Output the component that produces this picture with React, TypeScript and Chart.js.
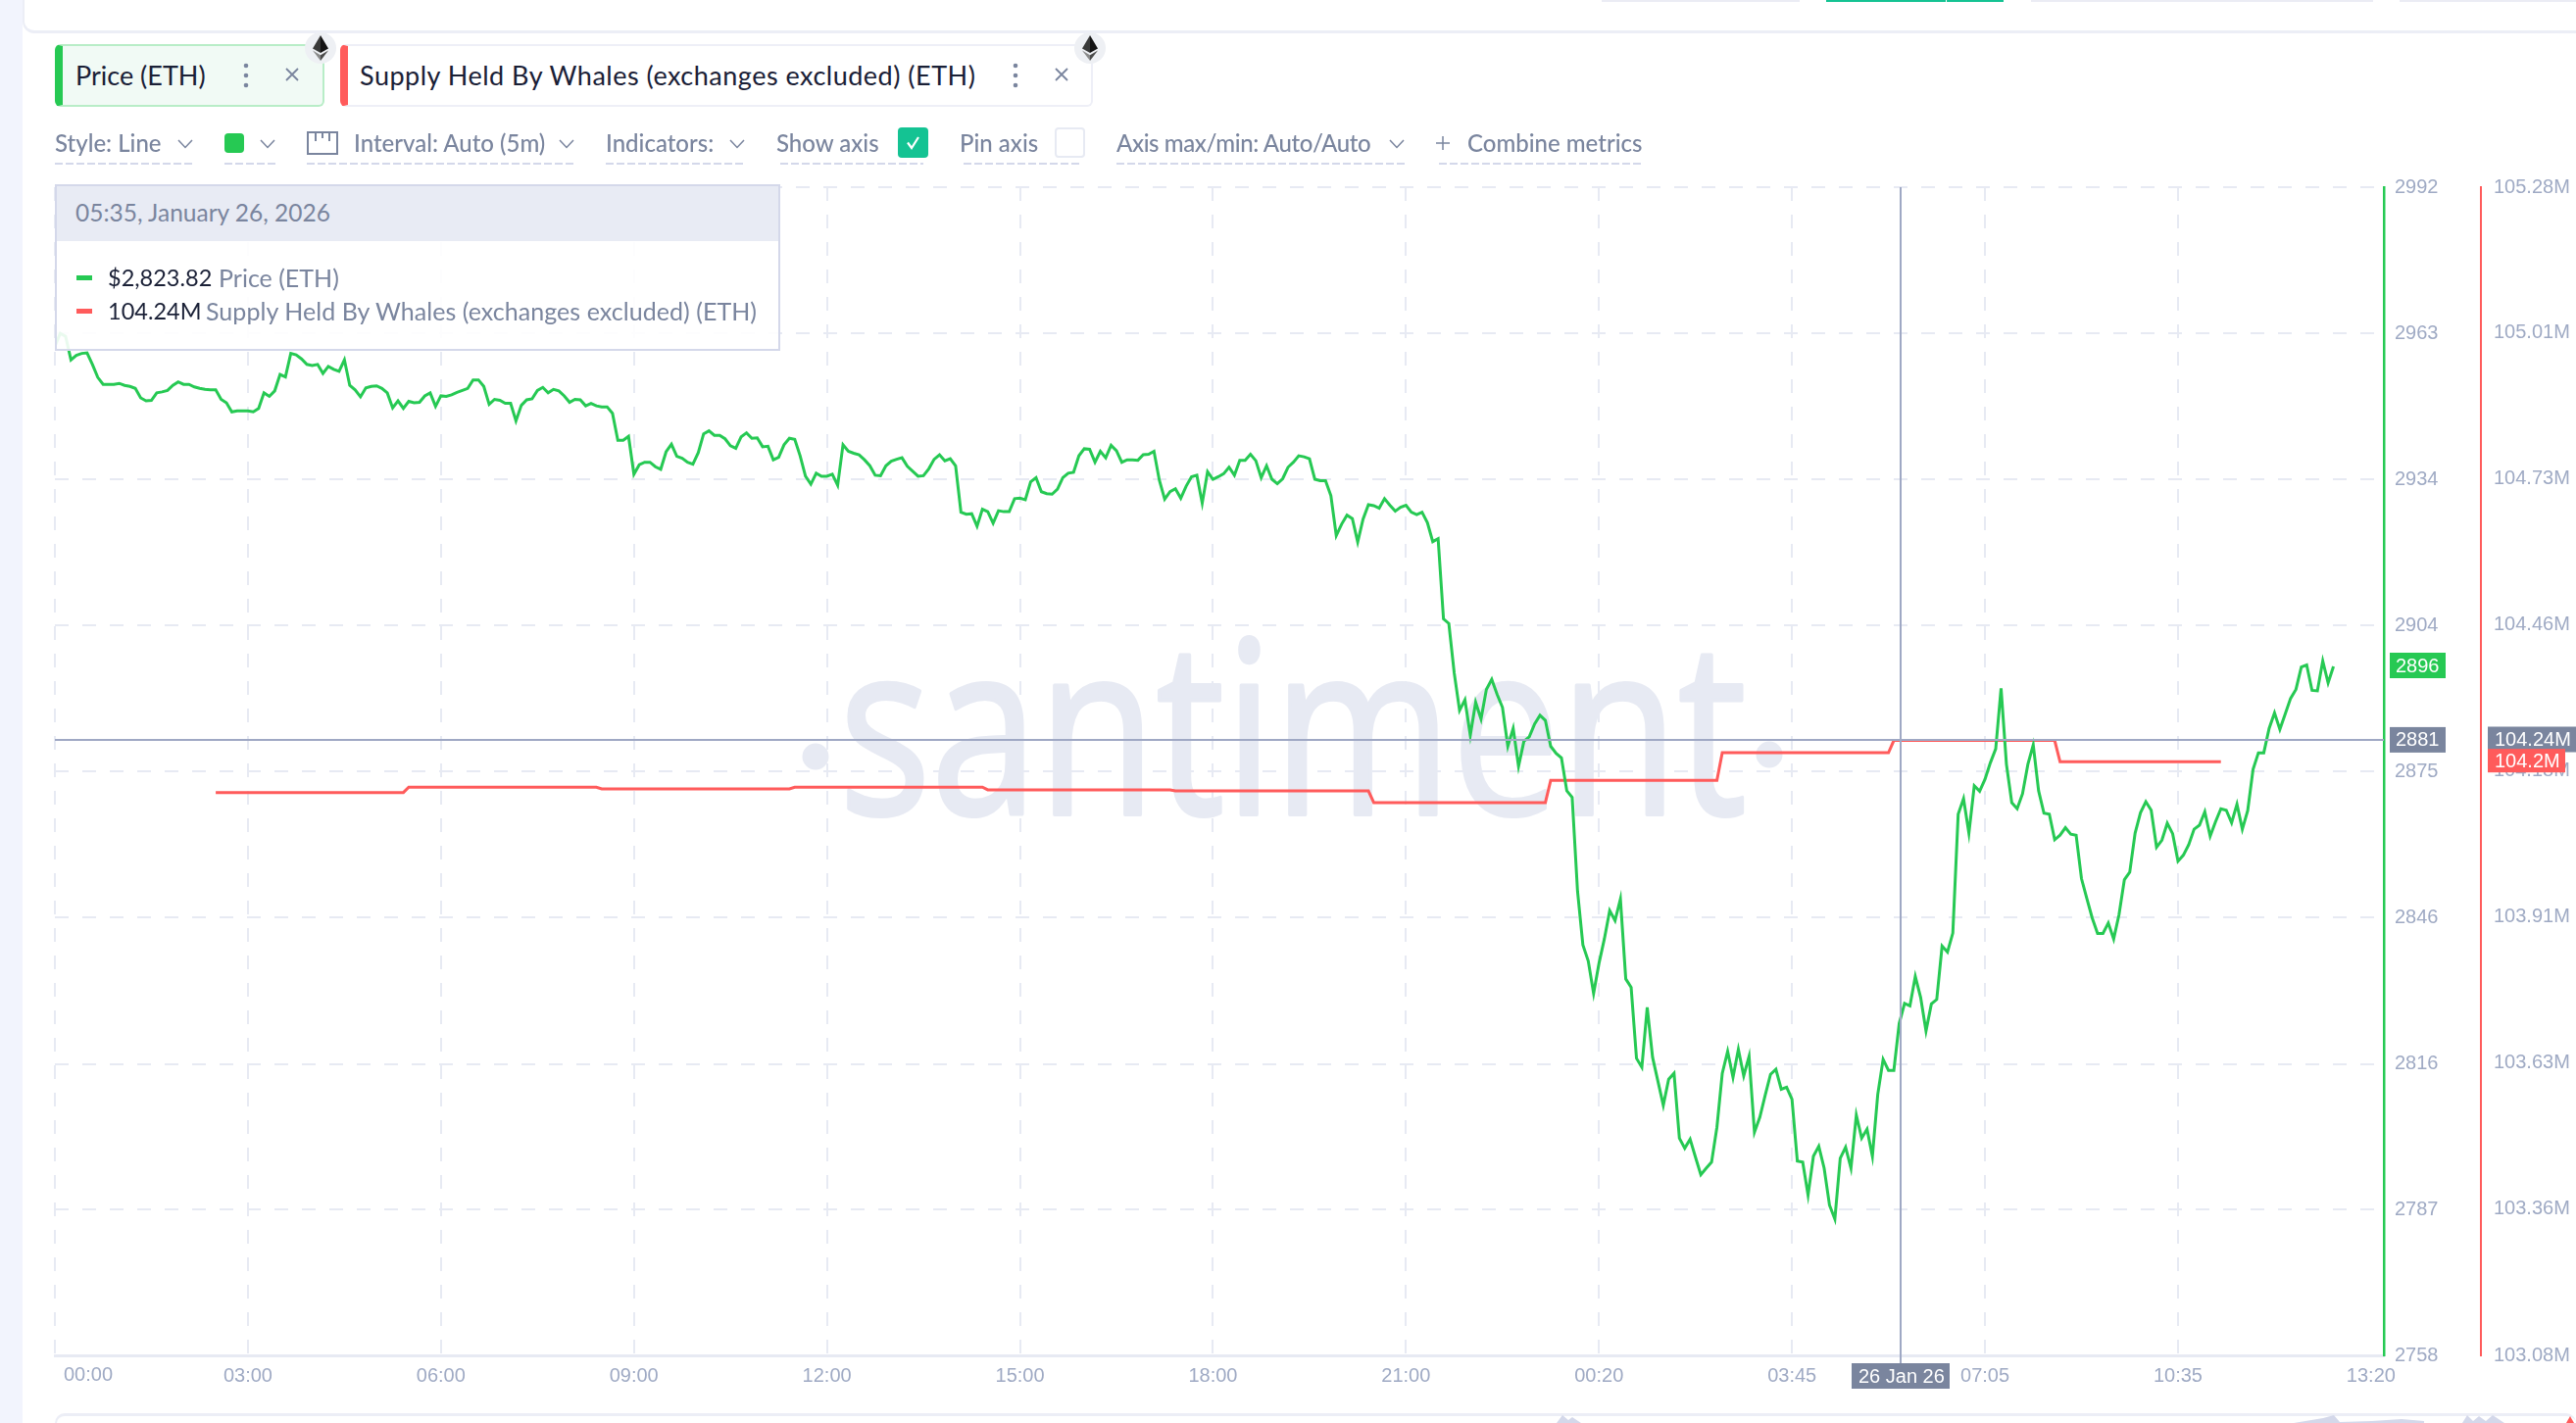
import React, { useEffect, useRef } from "react";
import { Chart, registerables } from "chart.js";

Chart.register(...registerables);

const priceValues = [
  2960.1,2962.7,2962.1,2957.4,2958.3,2958.7,2958.8,2956.5,2953.9,2952.5,2952.5,2952.5,2952.7,2952.3,2952.1,2951.7,2949.8,2949.2,2949.3,2950.8,
  2951.0,2951.3,2952.3,2953.0,2952.5,2952.5,2952.0,2951.7,2951.5,2951.4,2951.4,2949.5,2948.8,2947.0,2947.2,2947.2,2947.2,2947.0,2947.7,2950.8,
  2950.1,2951.2,2954.5,2954.0,2958.7,2958.4,2957.6,2956.5,2956.3,2956.5,2954.7,2956.1,2955.5,2955.1,2957.4,2952.3,2951.4,2950.0,2951.8,2952.1,
  2952.2,2951.7,2950.8,2947.8,2949.2,2947.7,2949.1,2948.8,2948.9,2950.2,2950.8,2948.1,2950.2,2950.1,2950.4,2950.9,2951.3,2951.7,2953.4,2953.4,
  2952.1,2948.5,2949.5,2949.3,2948.7,2948.7,2945.2,2948.3,2949.4,2949.6,2951.3,2951.9,2950.8,2951.5,2951.2,2950.2,2948.9,2949.5,2949.4,2948.2,
  2948.7,2948.2,2948.0,2948.0,2946.7,2941.3,2941.3,2942.1,2934.5,2936.4,2936.9,2936.9,2936.0,2935.5,2939.0,2940.5,2938.1,2937.7,2936.9,2936.5,
  2938.8,2942.6,2943.2,2942.3,2942.3,2941.6,2940.2,2939.7,2942.0,2942.8,2941.7,2941.8,2940.0,2940.1,2937.4,2937.9,2940.4,2941.7,2941.5,2938.2,
  2934.1,2932.5,2934.7,2934.1,
  2934.1,2934.5,2932.3,2940.4,2939.1,2938.7,2938.4,2937.4,2936.2,2934.3,2934.2,2936.2,2937.1,2937.5,2937.8,2936.1,2935.1,2934.1,2934.2,2935.6,
  2937.5,2938.4,2937.2,2937.6,2936.2,2926.9,2926.5,2926.6,2924.1,2927.5,2927.0,2924.7,2927.2,2927.0,2927.0,2929.6,2929.7,2929.4,2933.0,2933.8,
  2931.0,2930.6,2930.5,2931.5,2933.8,2934.7,2934.9,2938.2,2939.6,2939.5,2936.9,2939.1,2937.8,2940.3,2939.2,2936.9,2937.4,2937.4,2937.3,2938.4,
  2938.5,2939.1,2933.3,2929.5,2931.0,2931.6,2929.7,2932.1,2934.0,2934.3,2928.7,2935.0,2933.5,2934.0,2934.6,2935.9,2934.3,2937.3,2937.3,2938.5,
  2937.2,2933.8,2936.2,2933.5,2932.6,2933.6,2935.9,2936.9,2938.2,2938.0,2937.6,2933.5,2933.2,2933.2,2930.2,2922.2,2924.5,2926.3,2925.6,2920.9,
  2925.5,2928.4,2928.2,2927.7,2929.6,2928.3,2927.1,2927.9,2928.3,2926.9,2926.4,2926.9,2924.8,2921.0,2921.6,2905.5,2904.6,2894.7,2887.2,2889.3,
  2882.2,2888.8,2885.5,2891.4,2893.4,2890.4,2887.8,2880.0,2883.6,2876.0,2881.0,2881.9,2884.5,2886.2,2885.2,2880.0,2878.6,2877.7,2871.1,
  2869.8,2851.0,2840.2,2837.0,2830.5,2836.5,2841.4,2847.1,2845.1,2849.4,2833.4,2831.7,2817.5,2815.7,2827.7,2817.7,2812.9,2808.1,2813.3,2814.5,
  2801.5,2799.5,2801.3,2797.7,2794.2,2795.5,2796.7,2803.7,2814.5,2818.9,2813.7,2819.3,2814.0,2817.9,2802.7,2805.7,2810.1,2814.3,2815.3,2811.3,
  2811.7,2809.3,2796.9,2796.7,2790.1,2797.9,2799.9,2795.5,2788.1,2785.3,2797.5,2799.7,2795.5,2806.1,2801.5,2803.3,2797.9,2810.3,2817.3,2815.1,
  2815.1,2824.5,2828.5,2828.0,2833.9,2829.7,2823.0,2828.4,2829.3,2840.0,2838.8,2842.6,
  2866.4,2869.5,2862.6,2872.1,2871.0,2873.4,2876.7,2879.5,2891.6,2876.4,2868.7,2867.5,2870.5,2876.4,2880.3,2871.1,2866.6,2866.4,2861.3,2862.2,
  2863.7,2862.4,2862.2,2853.5,2849.5,2845.6,2842.5,2842.5,2844.6,2841.4,2846.3,2853.3,2854.8,2862.6,2866.7,2868.9,2867.2,2859.8,2861.2,2864.6,
  2862.5,2857.0,2858.2,2860.3,2863.4,2864.2,2866.9,2862.0,2864.9,2867.5,2867.2,2864.7,2868.4,2863.4,2867.1,2875.4,2878.7,2878.7,2883.6,2886.7,
  2883.4,2886.5,2889.6,2891.4,2895.9,2896.3,2891.2,2891.1,2897.1,2892.7,2896.0,
];

const whaleIndex = [30, 65, 66, 101, 102, 137, 138, 173, 174, 208, 209, 245, 246, 278, 279, 310, 311, 342, 343, 373, 374, 404];
const whaleValues = [
  104.14, 104.14, 104.15, 104.15, 104.147, 104.147, 104.15, 104.15, 104.145, 104.145, 104.143, 104.143,
  104.121, 104.121, 104.163, 104.163, 104.215, 104.215, 104.238, 104.238, 104.198, 104.198,
];

const xTickLabels = ["00:00", "03:00", "06:00", "09:00", "12:00", "15:00", "18:00", "21:00", "00:20", "03:45", "07:05", "10:35", "13:20"];
const xTickIndex = [0, 36, 72, 108, 144, 180, 216, 252, 288, 324, 360, 396, 432];
const priceTicks = [2992, 2962.75, 2933.5, 2904.25, 2875, 2845.75, 2816.4, 2787.2, 2758];
const whaleTicks = [105.28, 105.006, 104.731, 104.456, 104.181, 103.906, 103.631, 103.356, 103.08];

const crosshairIndex = 344.2;
const crosshairPrice = 2881.3;
const crosshairWhale = 104.24;
const lastPrice = 2896.2;
const lastWhale = 104.2;
const crosshairDate = "26 Jan 26";

const GREEN = "#26C953";
const RED = "#FF5B5B";
const TAG = "#7A859E";
const TICK = "#9FAAC4";
const GRID = "#E7EAF3";
const CROSS = "#9FA8C4";
const TEXT = "#7A859E";
const DARK = "#1A2036";
const UI = "Lato, 'Open Sans', sans-serif";
const AXIS_FONT = "'Liberation Sans', sans-serif";

const overlayPlugin = {
  id: "overlay",
  beforeDatasetsDraw(chart: any) {
    const { ctx } = chart;
    ctx.save();
    ctx.fillStyle = GRID;
    ctx.strokeStyle = GRID;
    ctx.beginPath();
    ctx.arc(832, 772, 13.5, 0, Math.PI * 2);
    ctx.arc(1805, 770, 13.5, 0, Math.PI * 2);
    ctx.fill();
    ctx.font = "245px 'Open Sans'";
    const w = ctx.measureText("santiment").width;
    ctx.translate(856, 831);
    ctx.scale(926 / w, 1);
    ctx.textAlign = "left";
    ctx.textBaseline = "alphabetic";
    ctx.fillText("santiment", 0, 0);
    ctx.lineWidth = 4;
    ctx.lineJoin = "round";
    ctx.strokeText("santiment", 0, 0);
    ctx.restore();
  },
  afterDatasetsDraw(chart: any) {
    const { ctx, chartArea, scales } = chart;
    const cx = scales.x.getPixelForValue(crosshairIndex);
    const cy = scales.y.getPixelForValue(crosshairPrice);
    ctx.save();
    ctx.strokeStyle = CROSS;
    ctx.lineWidth = 2;
    ctx.beginPath();
    ctx.moveTo(Math.round(cx), chartArea.top);
    ctx.lineTo(Math.round(cx), 1392);
    ctx.moveTo(chartArea.left, Math.round(cy));
    ctx.lineTo(chartArea.right, Math.round(cy));
    ctx.stroke();

    const tag = (x: number, w: number, midY: number, h: number, bg: string, text: string, tx: number) => {
      ctx.fillStyle = bg;
      ctx.fillRect(x, midY - h / 2, w, h);
      ctx.fillStyle = "#fff";
      ctx.font = "20px " + AXIS_FONT;
      ctx.textAlign = "left";
      ctx.textBaseline = "middle";
      ctx.fillText(text, tx, midY + 1);
    };
    const px = scales.y.getPixelForValue(lastPrice);
    tag(2438, 57, px, 26, GREEN, String(Math.round(lastPrice)), 2444);
    tag(2438, 57, cy, 26, TAG, String(Math.round(crosshairPrice)), 2444);
    const wy = scales.y2.getPixelForValue(crosshairWhale);
    tag(2538, 90, wy, 26, TAG, crosshairWhale.toFixed(2) + "M", 2545);
    const ly = scales.y2.getPixelForValue(lastWhale);
    tag(2538, 79, ly, 24, RED, lastWhale.toFixed(1) + "M", 2545);
    tag(Math.round(cx) - 50, 100, 1404, 26, TAG, crosshairDate, Math.round(cx) - 43);

    ctx.fillStyle = TICK;
    ctx.font = "20px " + AXIS_FONT;
    ctx.textAlign = "center";
    ctx.textBaseline = "middle";
    ctx.fillText(xTickLabels[0], 90, 1403);
    ctx.restore();
  },
};

type TProps = { x: number; y: number; size?: number; color?: string; weight?: number; spacing?: number; children: React.ReactNode };
const T = ({ x, y, size = 24, color = TEXT, weight = 500, spacing = 0, children }: TProps) => (
  <div style={{ position: "absolute", left: x, top: y - 20, height: 40, lineHeight: "40px", fontSize: size, color, fontWeight: weight, letterSpacing: spacing, fontFamily: UI, whiteSpace: "nowrap" }}>
    {children}
  </div>
);

const Box = ({ x, y, w, h, style }: { x: number; y: number; w: number; h: number; style?: React.CSSProperties }) => (
  <div style={{ position: "absolute", left: x, top: y, width: w, height: h, boxSizing: "border-box", ...style }} />
);

const Under = ({ x, x2 }: { x: number; x2: number }) => (
  <Box x={x} y={166} w={x2 - x} h={2} style={{ background: "repeating-linear-gradient(90deg,#D4D8EA 0 8px,transparent 8px 11px)" }} />
);

const Chevron = ({ x }: { x: number }) => (
  <svg style={{ position: "absolute", left: x - 8, top: 142, width: 16, height: 10 }} viewBox="0 0 16 10">
    <polyline points="1,1 8,8.5 15,1" fill="none" stroke={TEXT} strokeWidth="1.5" />
  </svg>
);

const Eth = ({ x }: { x: number }) => (
  <svg style={{ position: "absolute", left: x - 16, top: 33, width: 32, height: 32 }} viewBox="0 0 32 32">
    <circle cx="16" cy="16" r="16" fill="#EEF0F4" />
    <polygon points="16,3 8,16.5 16,21" fill="#3A3A3A" />
    <polygon points="16,3 24,16.5 16,21" fill="#141414" />
    <polygon points="8,18.5 16,29 16,23.2" fill="#8A8A8A" />
    <polygon points="24,18.5 16,29 16,23.2" fill="#4A4A4A" />
  </svg>
);

const Dots = ({ x }: { x: number }) => (
  <svg style={{ position: "absolute", left: x - 4, top: 62, width: 8, height: 30 }} viewBox="0 0 8 30">
    <circle cx="4" cy="5" r="2.3" fill={TEXT} />
    <circle cx="4" cy="15" r="2.3" fill={TEXT} />
    <circle cx="4" cy="25" r="2.3" fill={TEXT} />
  </svg>
);

const Close = ({ x }: { x: number }) => (
  <svg style={{ position: "absolute", left: x - 8, top: 68, width: 16, height: 16 }} viewBox="0 0 16 16">
    <path d="M2 2 L14 14 M14 2 L2 14" stroke={TEXT} strokeWidth="1.8" fill="none" />
  </svg>
);

const Chip = ({ x, w, color, border, bg }: { x: number; w: number; color: string; border: string; bg: string }) => (
  <div style={{ position: "absolute", left: x, top: 45, width: w, height: 64, boxSizing: "border-box", border: `2px solid ${border}`, borderLeft: `8px solid ${color}`, borderRadius: 6, background: bg }} />
);

export default function App() {
  const ref = useRef<HTMLCanvasElement>(null);
  useEffect(() => {
    const chart = new Chart(ref.current as HTMLCanvasElement, {
      type: "line",
      data: {
        datasets: [
          {
            label: "Price (ETH)",
            data: priceValues.map((y, x) => ({ x, y })),
            borderColor: GREEN,
            borderWidth: 3,
            pointRadius: 0,
            tension: 0,
            yAxisID: "y",
          },
          {
            label: "Supply Held By Whales (exchanges excluded) (ETH)",
            data: whaleIndex.map((x, i) => ({ x, y: whaleValues[i] })),
            borderColor: RED,
            borderWidth: 3,
            pointRadius: 0,
            tension: 0,
            yAxisID: "y2",
          },
        ],
      },
      options: {
        animation: false,
        responsive: false,
        parsing: false,
        normalized: true,
        layout: { padding: { left: 56, top: 191, right: 0, bottom: 0 } },
        plugins: { legend: { display: false }, tooltip: { enabled: false } },
        events: [],
        scales: {
          x: {
            type: "linear",
            min: 0,
            max: 434.4,
            afterFit(s: any) { s.height = 69; },
            afterBuildTicks(s: any) { s.ticks = xTickIndex.map((value) => ({ value })); },
            grid: {
              color: (c: any) => (c.tick && c.tick.value === 432 ? "transparent" : GRID),
              lineWidth: 2,
              drawTicks: false,
            },
            border: { color: GRID, width: 3, dash: [14, 14] },
            ticks: {
              color: TICK,
              font: { family: "Liberation Sans", size: 20 },
              padding: 9,
              maxRotation: 0,
              autoSkip: false,
              callback: (v: any) => {
                const i = xTickIndex.indexOf(v);
                return i > 0 ? xTickLabels[i] : "";
              },
            },
          },
          y: {
            position: "right",
            min: 2758,
            max: 2992,
            afterFit(s: any) { s.width = 99; },
            afterBuildTicks(s: any) { s.ticks = priceTicks.map((value) => ({ value })); },
            grid: { color: GRID, lineWidth: 2, drawTicks: false },
            border: { color: GREEN, width: 2.5, dash: [14, 14] },
            ticks: {
              color: TICK,
              font: { family: "Liberation Sans", size: 20 },
              padding: 11,
              autoSkip: false,
              callback: (v: any) => String(Math.round(v)),
            },
          },
          y2: {
            position: "right",
            min: 103.08,
            max: 105.28,
            afterFit(s: any) { s.width = 97; },
            afterBuildTicks(s: any) { s.ticks = whaleTicks.map((value) => ({ value })); },
            grid: { display: false, drawOnChartArea: false, drawTicks: false },
            border: { color: RED, width: 2 },
            ticks: {
              color: TICK,
              font: { family: "Liberation Sans", size: 20 },
              padding: 13,
              autoSkip: false,
              callback: (v: any) => Number(v).toFixed(2) + "M",
            },
          },
        },
      } as any,
      plugins: [overlayPlugin as any],
    });
    return () => chart.destroy();
  }, []);

  return (
    <div style={{ position: "absolute", left: 0, top: 0, width: 2628, height: 1452, overflow: "hidden", background: "#fff" }}>
      {/* page frame */}
      <Box x={0} y={0} w={23} h={1452} style={{ background: "#F2F4FD" }} />
      <Box x={23} y={-20} w={2640} h={54} style={{ borderBottom: "3px solid #ECEEF6", borderLeft: "2px solid #ECEEF6", borderRadius: 12 }} />
      <Box x={1634} y={0} w={202} h={2} style={{ background: "#EBECF4" }} />
      <Box x={1863} y={0} w={122} h={2} style={{ background: "#14C393" }} />
      <Box x={1986} y={0} w={58} h={2} style={{ background: "#14C393" }} />
      <Box x={2072} y={0} w={349} h={2} style={{ background: "#EBECF4" }} />
      <Box x={2448} y={0} w={180} h={2} style={{ background: "#EBECF4" }} />

      <canvas ref={ref} width={2628} height={1452} style={{ position: "absolute", left: 0, top: 0, width: 2628, height: 1452 }} />

      {/* metric chips */}
      <Chip x={56} w={275} color={GREEN} border="#B8EDC7" bg="#F1FAF5" />
      <T x={77} y={77} size={27} color={DARK} weight={400}>Price (ETH)</T>
      <Dots x={251} />
      <Close x={298} />
      <Eth x={327} />
      <Chip x={347} w={768} color={RED} border="#EEEFF7" bg="#fff" />
      <T x={367} y={77} size={27} color={DARK} weight={400} spacing={0.5}>Supply Held By Whales (exchanges excluded) (ETH)</T>
      <Dots x={1036} />
      <Close x={1083} />
      <Eth x={1112} />

      {/* toolbar */}
      <T x={56} y={146}>Style: Line</T>
      <Chevron x={189} />
      <Under x={56} x2={198} />
      <Box x={229} y={136} w={20} h={20} style={{ background: GREEN, borderRadius: 4 }} />
      <Chevron x={273} />
      <Under x={229} x2={281} />
      <svg style={{ position: "absolute", left: 313, top: 134, width: 32, height: 24 }} viewBox="0 0 32 24">
        <rect x="1" y="1" width="30" height="22" fill="none" stroke={TEXT} strokeWidth="2" />
        <path d="M9 2 V10 M16 2 V7 M23 2 V10" stroke={TEXT} strokeWidth="2" fill="none" />
      </svg>
      <T x={361} y={146}>Interval: Auto (5m)</T>
      <Chevron x={578} />
      <Under x={313} x2={586} />
      <T x={618} y={146}>Indicators:</T>
      <Chevron x={752} />
      <Under x={618} x2={760} />
      <T x={792} y={146}>Show axis</T>
      <Box x={916} y={130} w={31} h={31} style={{ background: "#14C393", borderRadius: 4 }} />
      <svg style={{ position: "absolute", left: 916, top: 130, width: 31, height: 31 }} viewBox="0 0 31 31">
        <polyline points="10,15.5 14,21 21,10" fill="none" stroke="#fff" strokeWidth="2.2" />
      </svg>
      <Under x={796} x2={942} />
      <T x={979} y={146}>Pin axis</T>
      <Box x={1076} y={130} w={31} h={31} style={{ border: "2px solid #E7EAF3", borderRadius: 4 }} />
      <Under x={983} x2={1103} />
      <T x={1139} y={146} spacing={-0.4}>Axis max/min: Auto/Auto</T>
      <Chevron x={1425} />
      <Under x={1139} x2={1433} />
      <svg style={{ position: "absolute", left: 1465, top: 139, width: 14, height: 14 }} viewBox="0 0 14 14">
        <path d="M7 0 V14 M0 7 H14" stroke={TEXT} strokeWidth="1.5" />
      </svg>
      <T x={1497} y={146}>Combine metrics</T>
      <Under x={1468} x2={1675} />

      {/* hover tooltip */}
      <div style={{ position: "absolute", left: 56, top: 188, width: 740, height: 170, boxSizing: "border-box", border: "2px solid #D4D8EA", background: "rgba(255,255,255,0.9)" }}>
        <div style={{ height: 56, background: "#E8EBF4" }} />
      </div>
      <T x={77} y={217} size={24.5} weight={400}>05:35, January 26, 2026</T>
      <Box x={78} y={281} w={16} h={5} style={{ background: GREEN }} />
      <T x={110} y={283} size={23.5} weight={400} color={DARK}>$2,823.82</T>
      <T x={223} y={283} size={25} weight={400}>Price (ETH)</T>
      <Box x={78} y={315} w={16} h={5} style={{ background: RED }} />
      <T x={110} y={317} size={23.5} weight={400} color={DARK}>104.24M</T>
      <T x={210} y={317} size={25} weight={400} spacing={0.05}>Supply Held By Whales (exchanges excluded) (ETH)</T>

      {/* navigator strip */}
      <Box x={56} y={1442} w={2572} h={30} style={{ borderTop: "3px solid #ECEEF6", borderLeft: "2px solid #ECEEF6", borderRadius: 10 }} />
      <svg style={{ position: "absolute", left: 0, top: 1440, width: 2628, height: 12 }} viewBox="0 0 2628 12">
        <path d="M1588 12 L1594 4 L1600 9 L1604 6 L1613 12 Z" fill="#D4D8EA" />
        <path d="M2340 12 L2370 7 L2381 4 L2387 11 L2420 10 L2450 8 L2473 10 V12 Z" fill="#D4D8EA" />
        <path d="M2512 12 L2517 4 L2523 10 L2529 5 L2536 10 L2543 4 L2555 12 Z" fill="#D4D8EA" />
        <path d="M2618 12 L2622 5 L2626 12 Z" fill={RED} />
      </svg>
    </div>
  );
}
